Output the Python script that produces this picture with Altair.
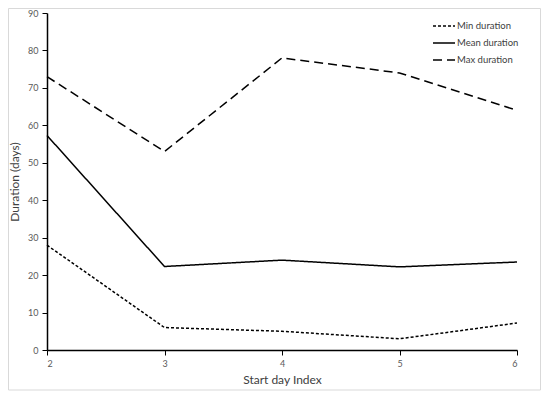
import altair as alt
import pandas as pd

start_idx = [2, 3, 4, 5, 6]
min_dur = [28, 6, 5, 3, 7.2]
mean_dur = [57.3, 22.3, 24.0, 22.2, 23.5]
max_dur = [73, 53, 78, 74, 64]
series = ["Min duration", "Mean duration", "Max duration"]

rows = []
for name, vals in zip(series, [min_dur, mean_dur, max_dur]):
    for x, v in zip(start_idx, vals):
        rows.append({"idx": x, "dur": v, "series": name})
df = pd.DataFrame(rows)

FONT = "Lato"

frame = alt.Chart(pd.DataFrame({"a": [0]})).mark_rect(
    fill=None, stroke="#d9d9d9", strokeWidth=1, clip=False
).encode(
    x=alt.value(-38.5), x2=alt.value(493.5), y=alt.value(-4.5), y2=alt.value(377)
)

lines = alt.Chart(df).mark_line(color="black", strokeWidth=1.5).encode(
    x=alt.X("idx:Q", title="Start day Index",
            scale=alt.Scale(domain=[2, 6], nice=False),
            axis=alt.Axis(values=[2, 3, 4, 5, 6], format="d", grid=False,
                          domainColor="black", domainWidth=1.5, tickColor="black",
                          tickSize=5, labelColor="#595959", labelFontSize=9,
                          labelFont=FONT, titleFont=FONT, titleFontSize=12,
                          titleFontWeight="normal", titleColor="#404040",
                          labelPadding=4, titlePadding=6)),
    y=alt.Y("dur:Q", title="Duration (days)",
            scale=alt.Scale(domain=[0, 90], nice=False),
            axis=alt.Axis(values=list(range(0, 91, 10)), grid=False,
                          domainColor="black", domainWidth=1.5, tickColor="black",
                          tickSize=5, labelColor="#595959", labelFontSize=9,
                          labelFont=FONT, titleFont=FONT, titleFontSize=12,
                          titleFontWeight="normal", titleColor="#404040",
                          labelPadding=4, titlePadding=6)),
    strokeDash=alt.StrokeDash("series:N", sort=series,
        scale=alt.Scale(domain=series, range=[[3, 2], [1, 0], [9, 5]]),
        legend=alt.Legend(title=None, orient="none", legendX=385, legendY=1,
                          symbolType="stroke", symbolSize=484, symbolStrokeColor="black",
                          symbolStrokeWidth=1.5, labelFont=FONT, labelFontSize=9.5,
                          labelColor="#404040", rowPadding=-7, labelOffset=1)),
    detail="series:N",
    order="idx:Q",
)

chart = alt.layer(frame, lines).properties(
    width=470, height=337,
    autosize=alt.AutoSizeParams(type="none"),
    padding={"left": 39, "top": 5, "right": 25, "bottom": 41},
).configure_view(stroke=None)

chart.save("out.html", embed_options={"renderer": "svg", "actions": False})
